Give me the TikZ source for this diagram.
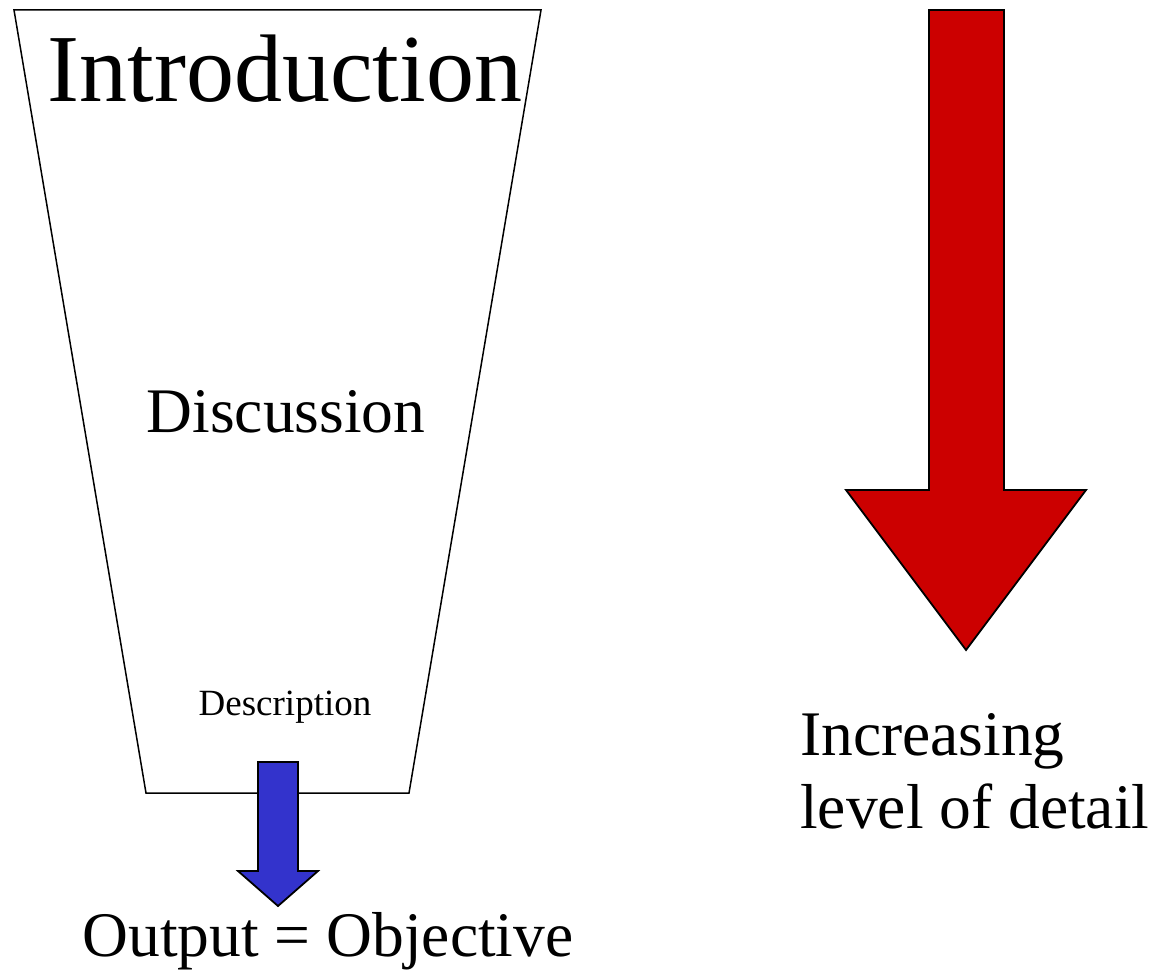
\documentclass[tikz,border=0pt]{standalone}
\usepackage{fontspec}
\setmainfont{Liberation Serif}
\definecolor{arrowred}{HTML}{CC0000}
\definecolor{arrowblue}{HTML}{3333CC}
\tikzset{
  outline/.style={draw=black, line width=1.8pt, line join=miter},
  lbl/.style={inner sep=0pt, anchor=base, text=black},
}
\begin{document}
\begin{tikzpicture}[x=1pt, y=-1pt]
\useasboundingbox (0,0) rectangle (1155,974);
% funnel
\draw[draw=black, line width=1.5pt] (14,10) -- (541,10) -- (409,793) -- (146,793) -- cycle;
% blue arrow
\filldraw[outline, fill=arrowblue] (258,762) -- (298,762) -- (298,871) -- (318,871) -- (278,906) -- (238,871) -- (258,871) -- cycle;
% red arrow
\filldraw[outline, fill=arrowred] (929,10) -- (1004,10) -- (1004,490) -- (1086,490) -- (966,650) -- (846,490) -- (929,490) -- cycle;
% texts
\node[lbl, font=\fontsize{96}{100}\selectfont] (intro) at (285,101) {Introduction};
\node[lbl, font=\fontsize{63.5}{70}\selectfont] (disc) at (286,432) {Discussion};
\node[lbl, font=\fontsize{37}{40}\selectfont] (desc) at (285,715) {Description};
\node[lbl, font=\fontsize{63.5}{70}\selectfont] (out) at (328,956) {Output = Objective};
\node[lbl, anchor=base west, font=\fontsize{63.5}{70}\selectfont] (inc) at (800,755) {Increasing};
\node[lbl, anchor=base west, font=\fontsize{63.5}{70}\selectfont] (lvl) at (800,828) {level of detail};
\end{tikzpicture}
\end{document}
